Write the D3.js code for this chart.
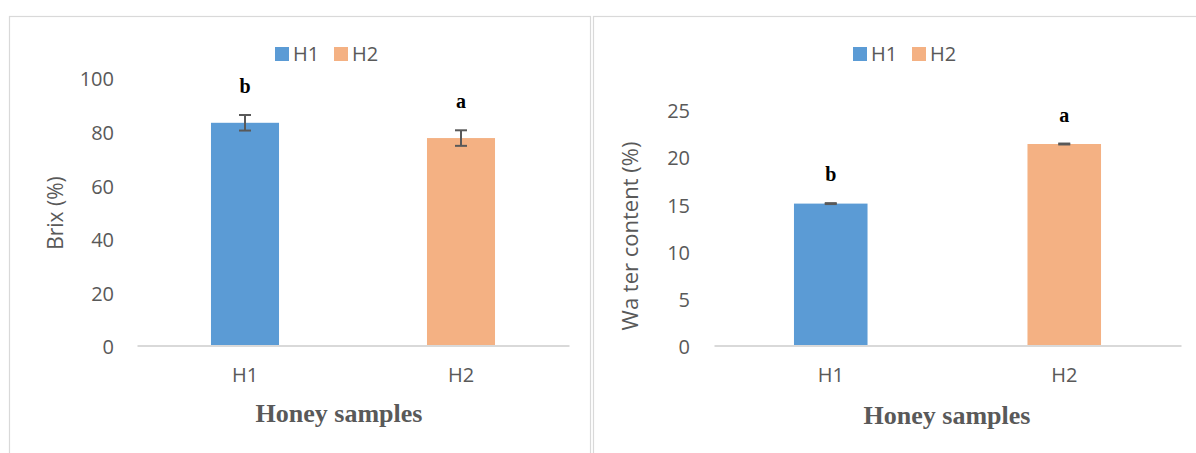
<!DOCTYPE html>
<html>
<head>
<meta charset="utf-8">
<script src="https://cdn.jsdelivr.net/npm/d3@7"></script>
<style>
  html, body { margin: 0; padding: 0; background: #fff; }
  svg { display: block; }
</style>
</head>
<body>
<svg id="chart" width="1196" height="453"></svg>
<script>
const categories = ["H1", "H2"];
const seriesNames = ["H1", "H2"];
const seriesColors = ["#5B9BD5", "#F4B183"];

const brixValues = [83.1, 77.4];
const brixErrors = [2.9, 2.9];
const brixLetters = ["b", "a"];
const brixTicks = [0, 20, 40, 60, 80, 100];

const waterValues = [15.0, 21.3];
const waterErrors = [0.05, 0.05];
const waterLetters = ["b", "a"];
const waterTicks = [0, 5, 10, 15, 20, 25];

const svg = d3.select("#chart");
const gray = "#595959";
const sansFont = "'Open Sans', 'Noto Sans', sans-serif";
const serifFont = "'Liberation Serif', 'Times New Roman', serif";

const panels = [
  {
    frame: [9, 16, 581, 460],
    xRange: [137, 569], yRange: [345.5, 77.5], domainMax: 100,
    values: brixValues, errors: brixErrors, letters: brixLetters, ticks: brixTicks,
    yTitle: "Brix (%)", yTitleX: 56, yTitleY: 213, yTitleSize: 21, tickRight: 114,
    legendX: 275, xTitleX: 339, xTitleY: 422
  },
  {
    frame: [593, 16, 620, 460],
    xRange: [714, 1181], yRange: [345.5, 109], domainMax: 25,
    values: waterValues, errors: waterErrors, letters: waterLetters, ticks: waterTicks,
    yTitle: "Wa ter content (%)", yTitleX: 630, yTitleY: 236, yTitleSize: 22, tickRight: 690,
    legendX: 853, xTitleX: 947, xTitleY: 424
  }
];

panels.forEach(p => {
  const g = svg.append("g");
  // panel frame
  g.append("rect")
    .attr("x", p.frame[0] + 0.5).attr("y", p.frame[1] + 0.5)
    .attr("width", p.frame[2]).attr("height", p.frame[3])
    .attr("fill", "#fff").attr("stroke", "#d9d9d9").attr("stroke-width", 1.2);

  const x = d3.scaleBand().domain(categories).range(p.xRange).padding(0);
  const y = d3.scaleLinear().domain([0, p.domainMax]).range(p.yRange);
  const barW = x.bandwidth() * 0.315;

  // y tick labels
  const yAxis = g.append("g")
    .attr("transform", `translate(${p.tickRight},2)`)
    .call(d3.axisLeft(y).tickValues(p.ticks).tickSize(0).tickPadding(0).tickFormat(d3.format("d")));
  yAxis.select(".domain").remove();
  yAxis.selectAll("text")
    .attr("fill", gray).style("font-family", sansFont).style("font-size", "20px");

  // bars
  g.selectAll("rect.bar").data(p.values).enter().append("rect")
    .attr("class", "bar")
    .attr("x", (d, i) => x(categories[i]) + x.bandwidth() / 2 - barW / 2)
    .attr("y", d => y(d))
    .attr("width", barW)
    .attr("height", d => y(0) - y(d))
    .attr("fill", (d, i) => seriesColors[i]);

  // x axis line + labels
  const xAxis = g.append("g")
    .attr("transform", `translate(0,${y(0)})`)
    .call(d3.axisBottom(x).tickSize(0).tickPadding(22));
  xAxis.select(".domain").attr("stroke", "#d9d9d9").attr("stroke-width", 1.8);
  xAxis.selectAll("text")
    .attr("fill", gray).style("font-family", sansFont).style("font-size", "20px");

  // error bars
  const eb = g.selectAll("g.err").data(p.values).enter().append("g").attr("class", "err");
  eb.each(function(d, i) {
    const cx = x(categories[i]) + x.bandwidth() / 2;
    const e = p.errors[i];
    const s = d3.select(this);
    const capW = 6;
    s.append("line").attr("x1", cx).attr("x2", cx).attr("y1", y(d - e)).attr("y2", y(d + e))
      .attr("stroke", gray).attr("stroke-width", 2);
    s.append("line").attr("x1", cx - capW).attr("x2", cx + capW).attr("y1", y(d + e)).attr("y2", y(d + e))
      .attr("stroke", gray).attr("stroke-width", 2);
    s.append("line").attr("x1", cx - capW).attr("x2", cx + capW).attr("y1", y(d - e)).attr("y2", y(d - e))
      .attr("stroke", gray).attr("stroke-width", 2);
  });

  // significance letters
  g.selectAll("text.sig").data(p.values).enter().append("text")
    .attr("class", "sig")
    .attr("x", (d, i) => x(categories[i]) + x.bandwidth() / 2)
    .attr("y", (d, i) => y(d + p.errors[i]) - 22)
    .attr("text-anchor", "middle")
    .attr("fill", "#000")
    .style("font-family", serifFont).style("font-size", "20px").style("font-weight", "bold")
    .text((d, i) => p.letters[i]);

  // y axis title
  g.append("text")
    .attr("transform", `translate(${p.yTitleX},${p.yTitleY}) rotate(-90)`)
    .attr("text-anchor", "middle").attr("dy", "0.35em")
    .attr("fill", gray).style("font-family", sansFont).style("font-size", p.yTitleSize + "px")
    .text(p.yTitle);

  // x axis title
  g.append("text")
    .attr("x", p.xTitleX).attr("y", p.xTitleY)
    .attr("text-anchor", "middle")
    .attr("fill", gray).style("font-family", serifFont).style("font-size", "26px").style("font-weight", "bold")
    .text("Honey samples");

  // legend
  const leg = g.append("g").attr("transform", `translate(${p.legendX},47)`);
  const offsets = [0, 59];
  seriesNames.forEach((name, i) => {
    leg.append("rect").attr("x", offsets[i]).attr("y", 0).attr("width", 14).attr("height", 14)
      .attr("fill", seriesColors[i]);
    leg.append("text").attr("x", offsets[i] + 18).attr("y", 7).attr("dy", "0.35em")
      .attr("fill", gray).style("font-family", sansFont).style("font-size", "20px")
      .text(name);
  });
});
</script>
</body>
</html>
